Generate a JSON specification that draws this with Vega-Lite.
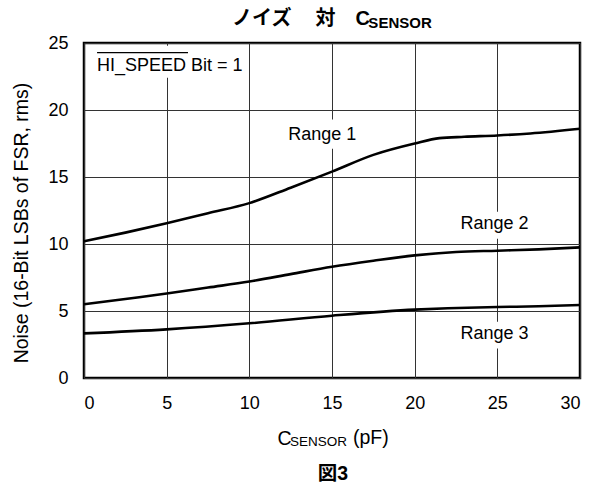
{
  "$schema": "https://vega.github.io/schema/vega-lite/v6.json",
  "width": 496,
  "height": 335,
  "autosize": {"type": "none"},
  "padding": {"left": 84, "top": 43, "right": 12, "bottom": 110},
  "background": "white",
  "config": {
    "view": {"stroke": "black", "strokeWidth": 2.5},
    "font": "Liberation Sans",
    "text": {"font": "Liberation Sans", "color": "black"}
  },
  "title": {
    "text": "ノイズ　\u2009対　C",
    "anchor": "start",
    "frame": "group",
    "dx": 148,
    "font": "Liberation Sans, Noto Sans CJK JP",
    "fontSize": 20,
    "fontWeight": "bold",
    "baseline": "alphabetic",
    "offset": -29,
    "color": "black"
  },
  "datasets": {
    "curves": [
      {"series": "Range 1", "x": 0, "y": 10.2},
      {"series": "Range 1", "x": 2.5, "y": 10.85},
      {"series": "Range 1", "x": 5, "y": 11.55},
      {"series": "Range 1", "x": 7.5, "y": 12.3},
      {"series": "Range 1", "x": 10, "y": 13.05},
      {"series": "Range 1", "x": 12.5, "y": 14.2},
      {"series": "Range 1", "x": 15, "y": 15.4},
      {"series": "Range 1", "x": 17.5, "y": 16.65},
      {"series": "Range 1", "x": 20, "y": 17.5},
      {"series": "Range 1", "x": 21.5, "y": 17.9},
      {"series": "Range 1", "x": 23, "y": 18.0},
      {"series": "Range 1", "x": 25, "y": 18.1},
      {"series": "Range 1", "x": 27, "y": 18.25},
      {"series": "Range 1", "x": 30, "y": 18.6},
      {"series": "Range 2", "x": 0, "y": 5.5},
      {"series": "Range 2", "x": 2.5, "y": 5.9},
      {"series": "Range 2", "x": 5, "y": 6.3},
      {"series": "Range 2", "x": 7.5, "y": 6.75},
      {"series": "Range 2", "x": 10, "y": 7.2},
      {"series": "Range 2", "x": 12.5, "y": 7.75},
      {"series": "Range 2", "x": 15, "y": 8.3},
      {"series": "Range 2", "x": 17.5, "y": 8.75},
      {"series": "Range 2", "x": 20, "y": 9.15},
      {"series": "Range 2", "x": 22.5, "y": 9.4},
      {"series": "Range 2", "x": 25, "y": 9.5},
      {"series": "Range 2", "x": 27.5, "y": 9.6},
      {"series": "Range 2", "x": 30, "y": 9.75},
      {"series": "Range 3", "x": 0, "y": 3.33},
      {"series": "Range 3", "x": 5, "y": 3.63},
      {"series": "Range 3", "x": 10, "y": 4.08},
      {"series": "Range 3", "x": 15, "y": 4.65},
      {"series": "Range 3", "x": 20, "y": 5.1},
      {"series": "Range 3", "x": 22, "y": 5.2},
      {"series": "Range 3", "x": 25, "y": 5.3},
      {"series": "Range 3", "x": 27.5, "y": 5.35},
      {"series": "Range 3", "x": 30, "y": 5.45}
    ],
    "boxes": [
      {"x": 0.3, "x2": 9.6, "y": 22.4, "y2": 24.8},
      {"x": 12.0, "x2": 16.7, "y": 17.1, "y2": 19.3},
      {"x": 22.4, "x2": 27.1, "y": 10.4, "y2": 12.4},
      {"x": 22.4, "x2": 27.1, "y": 2.2, "y2": 4.2}
    ],
    "labels": [
      {"text": "HI_SPEED Bit = 1", "x": 0.79, "y": 22.93},
      {"text": "Range 1", "x": 12.35, "y": 17.76},
      {"text": "Range 2", "x": 22.77, "y": 11.1},
      {"text": "Range 3", "x": 22.77, "y": 2.89}
    ],
    "unit": [
      {"text": "(pF)", "x": 16.27, "y": -4.93}
    ],
    "overline": [
      {"x": 0.79, "x2": 6.29, "y": 24.28}
    ],
    "titlesub": [
      {"text": "SENSOR", "x": 17.2, "y": 26.12}
    ],
    "axissub": [
      {"text": "SENSOR", "x": 12.46, "y": -5.05}
    ],
    "caption": [
      {"text": "図3", "x": 15.06, "y": -7.61}
    ]
  },
  "layer": [
    {
      "data": {"name": "boxes"},
      "mark": {"type": "rect", "fill": "white", "stroke": null},
      "encoding": {
        "x": {
          "field": "x", "type": "quantitative",
          "scale": {"domain": [0, 30], "nice": false, "zero": false},
          "axis": {
            "values": [0, 5, 10, 15, 20, 25, 30],
            "grid": true, "gridColor": "#333333", "gridWidth": 1, "gridOpacity": 1,
            "ticks": false, "domain": false,
            "labelFont": "Liberation Sans", "labelFontSize": 18, "labelColor": "black",
            "labelPadding": 16,
            "title": "C",
            "titleFont": "Liberation Sans", "titleFontSize": 19.5, "titleFontWeight": "normal",
            "titleColor": "black",
            "titleX": 200, "titleY": 66, "titleAlign": "center", "titleBaseline": "alphabetic"
          }
        },
        "x2": {"field": "x2"},
        "y": {
          "field": "y", "type": "quantitative",
          "scale": {"domain": [0, 25], "nice": false, "zero": false},
          "axis": {
            "values": [0, 5, 10, 15, 20, 25],
            "grid": true, "gridColor": "#333333", "gridWidth": 1, "gridOpacity": 1,
            "ticks": false, "domain": false,
            "labelFont": "Liberation Sans", "labelFontSize": 18, "labelColor": "black",
            "labelPadding": 16,
            "title": "Noise (16-Bit LSBs of FSR, rms)",
            "titleFont": "Liberation Sans", "titleFontSize": 19.5, "titleFontWeight": "normal",
            "titleColor": "black",
            "titleAngle": 270, "titleX": -56.7, "titleY": 179.5,
            "titleAlign": "center", "titleBaseline": "alphabetic"
          }
        },
        "y2": {"field": "y2"}
      }
    },
    {
      "data": {"name": "curves"},
      "mark": {"type": "line", "color": "black", "strokeWidth": 2.6, "interpolate": "monotone"},
      "encoding": {
        "x": {"field": "x", "type": "quantitative"},
        "y": {"field": "y", "type": "quantitative"},
        "detail": {"field": "series"}
      }
    },
    {
      "data": {"name": "labels"},
      "mark": {"type": "text", "align": "left", "baseline": "alphabetic", "fontSize": 18, "clip": false},
      "encoding": {
        "x": {"field": "x", "type": "quantitative"},
        "y": {"field": "y", "type": "quantitative"},
        "text": {"field": "text"}
      }
    },
    {
      "data": {"name": "unit"},
      "mark": {"type": "text", "align": "left", "baseline": "alphabetic", "fontSize": 19.5, "clip": false},
      "encoding": {
        "x": {"field": "x", "type": "quantitative"},
        "y": {"field": "y", "type": "quantitative"},
        "text": {"field": "text"}
      }
    },
    {
      "data": {"name": "overline"},
      "mark": {"type": "rule", "color": "black", "strokeWidth": 1.3},
      "encoding": {
        "x": {"field": "x", "type": "quantitative"},
        "x2": {"field": "x2"},
        "y": {"field": "y", "type": "quantitative"}
      }
    },
    {
      "data": {"name": "titlesub"},
      "mark": {"type": "text", "align": "left", "baseline": "alphabetic", "fontSize": 15, "fontWeight": "bold", "clip": false},
      "encoding": {
        "x": {"field": "x", "type": "quantitative"},
        "y": {"field": "y", "type": "quantitative"},
        "text": {"field": "text"}
      }
    },
    {
      "data": {"name": "axissub"},
      "mark": {"type": "text", "align": "left", "baseline": "alphabetic", "fontSize": 13.5, "clip": false},
      "encoding": {
        "x": {"field": "x", "type": "quantitative"},
        "y": {"field": "y", "type": "quantitative"},
        "text": {"field": "text"}
      }
    },
    {
      "data": {"name": "caption"},
      "mark": {"type": "text", "align": "center", "baseline": "alphabetic", "fontSize": 19.5, "fontWeight": "bold", "font": "Liberation Sans, Noto Sans CJK JP", "clip": false},
      "encoding": {
        "x": {"field": "x", "type": "quantitative"},
        "y": {"field": "y", "type": "quantitative"},
        "text": {"field": "text"}
      }
    }
  ]
}
